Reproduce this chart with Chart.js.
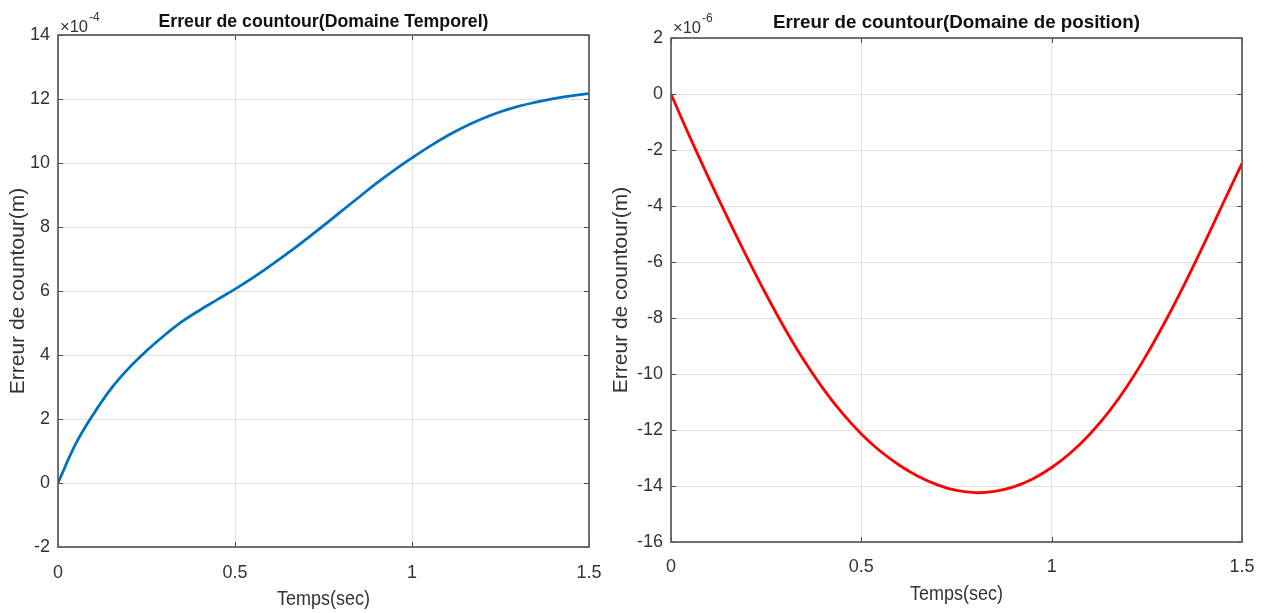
<!DOCTYPE html>
<html>
<head>
<meta charset="utf-8">
<script src="https://cdn.jsdelivr.net/npm/chart.js@4/dist/chart.umd.min.js"></script>
<style>
  html, body { margin: 0; padding: 0; background: #fff; }
  #wrap { position: relative; width: 1269px; height: 613px; overflow: hidden; background: #fff; }
  canvas { position: absolute; top: 0; }
</style>
</head>
<body>
<div id="wrap">
  <canvas id="gauche" width="640" height="613" style="left:0px"></canvas>
  <canvas id="droite" width="669" height="613" style="left:600px"></canvas>
</div>
<script>
// Temps d'échantillonnage (s)
const temps = [0, 0.05, 0.1, 0.15, 0.2, 0.25, 0.3, 0.35, 0.4, 0.45, 0.5, 0.55, 0.6, 0.65, 0.7, 0.75,
  0.8, 0.85, 0.9, 0.95, 1.0, 1.05, 1.1, 1.15, 1.2, 1.25, 1.3, 1.35, 1.4, 1.45, 1.5];

// Erreur de contour, domaine temporel (valeurs en 1e-4 m)
const erreurTemporel = [0, 1.22, 2.15, 2.95, 3.59, 4.13, 4.61, 5.04, 5.4, 5.73, 6.06, 6.41, 6.79, 7.19, 7.61, 8.04,
  8.49, 8.93, 9.37, 9.78, 10.16, 10.52, 10.85, 11.14, 11.39, 11.6, 11.77, 11.9, 12.01, 12.1, 12.17];

// Erreur de contour, domaine de position (valeurs en 1e-6 m)
const erreurPosition = [0, -1.55, -3.03, -4.46, -5.84, -7.16, -8.4, -9.53, -10.53, -11.4, -12.14, -12.76, -13.26, -13.66, -13.96, -14.16,
  -14.24, -14.19, -14.03, -13.75, -13.34, -12.81, -12.15, -11.35, -10.4, -9.3, -8.08, -6.76, -5.36, -3.91, -2.48];

// Graduations
const xTickLabels = ['0', '0.5', '1', '1.5'];
const yTickLabelsTemporel = ['-2', '0', '2', '4', '6', '8', '10', '12', '14'];
const yTickLabelsPosition = ['-16', '-14', '-12', '-10', '-8', '-6', '-4', '-2', '0', '2'];

// Textes
const titreTemporel = 'Erreur de countour(Domaine Temporel)';
const titrePosition = 'Erreur de countour(Domaine de position)';
const titreAxeX = 'Temps(sec)';
const titreAxeY = 'Erreur de countour(m)';
const exposantTemporel = '-4';
const exposantPosition = '-6';

const POLICE = '"Liberation Sans", Arial, Helvetica, sans-serif';
Chart.defaults.font.family = POLICE;

// Boîte d'axes façon MATLAB : cadre fermé, graduations intérieures, titres
const cadreMatlab = {
  id: 'cadreMatlab',
  afterDatasetsDraw(chart, args, o) {
    const { ctx, chartArea: a, scales: { x, y } } = chart;
    const L = 5;
    ctx.save();
    ctx.strokeStyle = '#4a4a4a';
    ctx.lineWidth = 1;
    ctx.beginPath();
    x.ticks.forEach(t => {
      const px = Math.round(x.getPixelForValue(t.value)) + 0.5;
      ctx.moveTo(px, a.bottom); ctx.lineTo(px, a.bottom - L);
      ctx.moveTo(px, a.top); ctx.lineTo(px, a.top + L);
    });
    y.ticks.forEach(t => {
      const py = Math.round(y.getPixelForValue(t.value)) + 0.5;
      ctx.moveTo(a.left, py); ctx.lineTo(a.left + L, py);
      ctx.moveTo(a.right, py); ctx.lineTo(a.right - L, py);
    });
    ctx.stroke();
    ctx.lineWidth = 1.7;
    ctx.strokeStyle = '#5c5c5c';
    ctx.strokeRect(a.left, a.top, a.right - a.left, a.bottom - a.top);
    ctx.restore();
  },
  afterDraw(chart, args, o) {
    const { ctx, chartArea: a } = chart;
    const cx = (a.left + a.right) / 2;
    const cy = (a.top + a.bottom) / 2;
    ctx.save();
    // titre
    ctx.fillStyle = '#111';
    ctx.font = 'bold 19px ' + POLICE;
    ctx.textAlign = 'center';
    ctx.textBaseline = 'alphabetic';
    ctx.fillText(o.titre, cx, o.titreY, o.titreLargeur);
    // facteur d'échelle
    ctx.fillStyle = '#333';
    ctx.textAlign = 'left';
    ctx.font = '17px ' + POLICE;
    const base = '\u00d710';
    const w = Math.min(ctx.measureText(base).width, 28);
    ctx.fillText(base, a.left + 2, o.expY, 28);
    ctx.font = '12px ' + POLICE;
    ctx.fillText(o.exposant, a.left + 3 + w, o.expY - 11, 12);
    // titre de l'axe x
    ctx.font = '21px ' + POLICE;
    ctx.textAlign = 'center';
    ctx.fillText(titreAxeX, cx, o.axeXY, 93);
    // titre de l'axe y
    ctx.translate(o.axeYX, cy);
    ctx.rotate(-Math.PI / 2);
    ctx.font = '21px ' + POLICE;
    ctx.textBaseline = 'middle';
    ctx.fillText(titreAxeY, 0, 0);
    ctx.restore();
  }
};

function construire(id, valeurs, couleur, yMin, yMax, yLabels, geo, textes) {
  const points = temps.map((t, i) => ({ x: t, y: valeurs[i] }));
  return new Chart(document.getElementById(id), {
    type: 'line',
    data: {
      datasets: [{
        data: points,
        borderColor: couleur,
        borderWidth: 2.8,
        pointRadius: 0,
        fill: false,
        tension: 0.4
      }]
    },
    options: {
      responsive: false,
      animation: false,
      devicePixelRatio: 1,
      layout: { padding: { left: 0, top: geo.top, right: geo.right, bottom: 0 } },
      plugins: {
        legend: { display: false },
        tooltip: { enabled: false },
        title: { display: false },
        cadreMatlab: textes
      },
      scales: {
        x: {
          type: 'linear',
          min: 0, max: 1.5,
          afterFit: s => { s.height = geo.xHeight; },
          grid: { color: '#e2e2e2', lineWidth: 1, drawTicks: false },
          border: { display: false },
          ticks: {
            stepSize: 0.5,
            autoSkip: false,
            maxRotation: 0,
            padding: geo.xPad,
            color: '#333',
            font: { size: 18, family: POLICE },
            callback: (v, i) => xTickLabels[i]
          }
        },
        y: {
          type: 'linear',
          min: yMin, max: yMax,
          afterFit: s => { s.width = geo.yWidth; },
          grid: { color: '#e2e2e2', lineWidth: 1, drawTicks: false },
          border: { display: false },
          ticks: {
            stepSize: 2,
            autoSkip: false,
            padding: 8,
            color: '#333',
            font: { size: 18, family: POLICE },
            callback: (v, i) => yLabels[i]
          }
        }
      }
    },
    plugins: [cadreMatlab]
  });
}

construire('gauche', erreurTemporel, 'rgb(0,114,189)', -2, 14, yTickLabelsTemporel,
  { top: 35, right: 51, xHeight: 66, yWidth: 58, xPad: 15 },
  { titre: titreTemporel, titreLargeur: 330, titreY: 27, expY: 32, exposant: exposantTemporel, axeXY: 605, axeYX: 18 });

construire('droite', erreurPosition, 'rgb(255,0,0)', -16, 2, yTickLabelsPosition,
  { top: 38, right: 27, xHeight: 71, yWidth: 71, xPad: 14 },
  { titre: titrePosition, titreLargeur: 367, titreY: 28, expY: 33, exposant: exposantPosition, axeXY: 600, axeYX: 21 });
</script>
</body>
</html>
